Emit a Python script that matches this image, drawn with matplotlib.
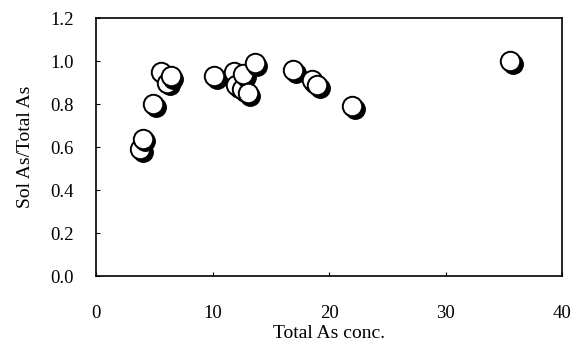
import matplotlib
matplotlib.use("Agg")
import matplotlib.pyplot as plt
import matplotlib.transforms as mtrans

plt.rcParams['font.family'] = ['Liberation Serif', 'DejaVu Serif']

# Total As conc. vs Sol As / Total As
total_as = [3.8, 4.0, 4.9, 5.6, 6.1, 6.4, 10.1, 11.8, 12.0, 12.5, 12.6, 13.0, 13.6,
            16.9, 18.5, 19.0, 22.0, 35.5]
sol_ratio = [0.59, 0.64, 0.80, 0.95, 0.90, 0.93, 0.93, 0.95, 0.89, 0.87, 0.94, 0.85, 0.99,
             0.96, 0.91, 0.89, 0.79, 1.00]

x_ticks = [0, 10, 20, 30, 40]
y_ticks = [0.0, 0.2, 0.4, 0.6, 0.8, 1.0, 1.2]

fig = plt.figure(figsize=(5.82, 3.49), dpi=100)
ax = fig.add_axes([0.165, 0.209, 0.801, 0.739])

# shadow offset down-right
shadow = ax.transData + mtrans.ScaledTranslation(2.8/100, -2.8/100, fig.dpi_scale_trans)

z = 3
for x, y in zip(total_as, sol_ratio):
    ax.plot(x, y, 'o', ms=14, color='black', transform=shadow, zorder=z)
    ax.plot(x, y, 'o', ms=14, mfc='white', mec='black', mew=1.4, zorder=z + 1)
    z += 2

ax.set_xlim(0, 40)
ax.set_ylim(0, 1.2)
ax.set_xticks(x_ticks)
ax.set_yticks(y_ticks)
ax.set_yticklabels(['%.1f' % v for v in y_ticks])
ax.tick_params(direction='in', length=3, labelsize=13.5)
ax.tick_params(axis='x', pad=21)
ax.tick_params(axis='y', pad=16)
for s in ax.spines.values():
    s.set_linewidth(1.2)

ax.set_xlabel('Total As conc.', fontsize=14, labelpad=2)
ax.set_ylabel('Sol As/Total As', fontsize=14, labelpad=12)

fig.savefig('out.png', dpi=100)
